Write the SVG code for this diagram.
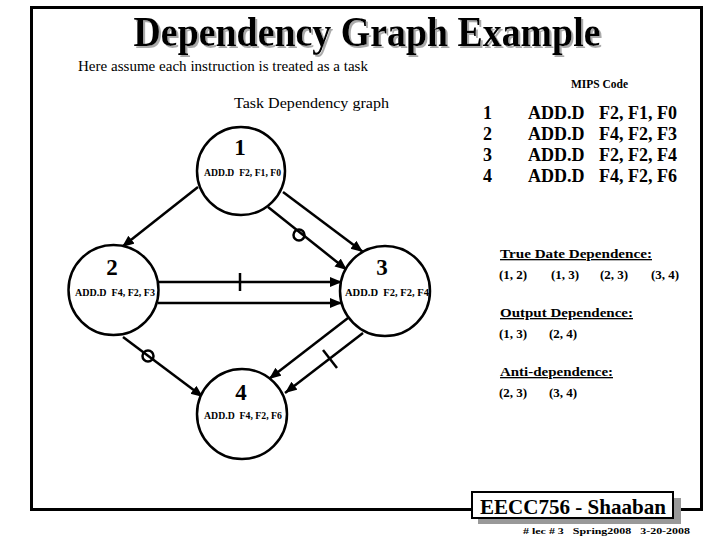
<svg xmlns="http://www.w3.org/2000/svg" width="720" height="540" viewBox="0 0 720 540">
<defs>
<marker id="ah" markerUnits="userSpaceOnUse" markerWidth="14" markerHeight="12" refX="12" refY="5" orient="auto">
<path d="M0,0 L12,5 L0,10 Z" fill="#000"/>
</marker>
<filter id="shadow" x="-5%" y="-20%" width="110%" height="140%">
<feDropShadow dx="2" dy="2" stdDeviation="0" flood-color="#aaa" flood-opacity="1"/>
</filter>
<style>
text{white-space:pre}
.serif{font-family:"Liberation Serif","Times New Roman",serif}
.b{font-weight:bold}
.node circle{fill:#fff;stroke:#000;stroke-width:2.5}
.num{font-family:"Liberation Serif",serif;font-weight:bold;font-size:23px;text-anchor:middle}
.ins{font-family:"Liberation Serif",serif;font-weight:bold;font-size:9.5px}
.edge{stroke:#000;stroke-width:2.5;fill:none}
.arr{marker-end:url(#ah)}
.mips{font-family:"Liberation Serif",serif;font-weight:bold;font-size:18px}
.dep{font-family:"Liberation Serif",serif;font-weight:bold;font-size:13px}
.ul{text-decoration:underline}
</style>
</defs>
<rect x="0" y="0" width="720" height="540" fill="#fff"/>
<rect x="31.5" y="7.5" width="670" height="502" fill="none" stroke="#000" stroke-width="3"/>

<g id="title">
<text x="367" y="46" class="serif b" font-size="42" text-anchor="middle" fill="#000" filter="url(#shadow)" textLength="467" lengthAdjust="spacingAndGlyphs">Dependency Graph Example</text>
</g>
<text x="78" y="71" class="serif" font-size="15" textLength="290" lengthAdjust="spacingAndGlyphs">Here assume each instruction is treated as a task</text>
<text x="571" y="88" class="serif b" font-size="12" textLength="57" lengthAdjust="spacingAndGlyphs">MIPS Code</text>
<text x="234" y="108" class="serif" font-size="15" textLength="155" lengthAdjust="spacingAndGlyphs">Task Dependency graph</text>

<g id="mips">
<text x="483" y="119" class="mips">1</text><text x="528" y="119" class="mips">ADD.D</text><text x="599" y="119" class="mips">F2, F1, F0</text>
<text x="483" y="140" class="mips">2</text><text x="528" y="140" class="mips">ADD.D</text><text x="599" y="140" class="mips">F4, F2, F3</text>
<text x="483" y="161" class="mips">3</text><text x="528" y="161" class="mips">ADD.D</text><text x="599" y="161" class="mips">F2, F2, F4</text>
<text x="483" y="182" class="mips">4</text><text x="528" y="182" class="mips">ADD.D</text><text x="599" y="182" class="mips">F4, F2, F6</text>
</g>

<g id="legend">
<text x="500" y="258" class="dep ul" textLength="152" lengthAdjust="spacingAndGlyphs">True Date Dependence:</text>
<text x="499" y="279" class="dep">(1, 2)</text><text x="551" y="279" class="dep">(1, 3)</text><text x="600" y="279" class="dep">(2, 3)</text><text x="651" y="279" class="dep">(3, 4)</text>
<text x="500" y="317" class="dep ul" textLength="133" lengthAdjust="spacingAndGlyphs">Output Dependence:</text>
<text x="499" y="338" class="dep">(1, 3)</text><text x="549" y="338" class="dep">(2, 4)</text>
<text x="500" y="376" class="dep ul" textLength="113" lengthAdjust="spacingAndGlyphs">Anti-dependence:</text>
<text x="499" y="397" class="dep">(2, 3)</text><text x="549" y="397" class="dep">(3, 4)</text>
</g>

<g id="connectors">
<line class="edge arr" x1="198" y1="187" x2="122" y2="247"/>
<line class="edge arr" x1="283" y1="192" x2="363" y2="252"/>
<line class="edge arr" x1="268" y1="207" x2="347" y2="270"/>
<circle class="edge" cx="299" cy="235" r="5.5"/>
<line class="edge arr" x1="158" y1="282" x2="342" y2="282"/>
<line class="edge" x1="240" y1="273" x2="240" y2="291"/>
<line class="edge arr" x1="158" y1="303" x2="342" y2="303"/>
<line class="edge arr" x1="123" y1="337" x2="203" y2="397"/>
<circle class="edge" cx="148" cy="356" r="5.5"/>
<line class="edge arr" x1="348" y1="318" x2="269" y2="379"/>
<line class="edge arr" x1="363" y1="333" x2="285" y2="393"/>
<line class="edge" x1="323" y1="350" x2="337" y2="368"/>
</g>

<g id="node1" class="node">
<circle cx="241" cy="171" r="44"/>
<text x="240" y="155" class="num">1</text>
<text x="204" y="176" class="ins" textLength="77" lengthAdjust="spacingAndGlyphs">ADD.D  F2, F1, F0</text>
</g>
<g id="node2" class="node">
<circle cx="113.5" cy="290" r="45"/>
<text x="112" y="275" class="num">2</text>
<text x="75" y="296" class="ins" textLength="80" lengthAdjust="spacingAndGlyphs">ADD.D  F4, F2, F3</text>
</g>
<g id="node3" class="node">
<circle cx="385" cy="291" r="45"/>
<text x="382" y="275" class="num">3</text>
<text x="345" y="296" class="ins" textLength="84" lengthAdjust="spacingAndGlyphs">ADD.D  F2, F2, F4</text>
</g>
<g id="node4" class="node">
<circle cx="242" cy="414" r="45"/>
<text x="241" y="400" class="num">4</text>
<text x="204" y="419" class="ins" textLength="78" lengthAdjust="spacingAndGlyphs">ADD.D  F4, F2, F6</text>
</g>

<g id="footer">
<rect x="478" y="498" width="203" height="26" fill="#999"/>
<rect x="472" y="492" width="201" height="26" fill="#fff" stroke="#000" stroke-width="2"/>
<text x="573" y="514" class="serif b" font-size="22" text-anchor="middle" textLength="186" lengthAdjust="spacingAndGlyphs">EECC756 - Shaaban</text>
<text x="523" y="534" class="serif b" font-size="9" textLength="167" lengthAdjust="spacingAndGlyphs"># lec # 3   Spring2008   3-20-2008</text>
</g>
</svg>
